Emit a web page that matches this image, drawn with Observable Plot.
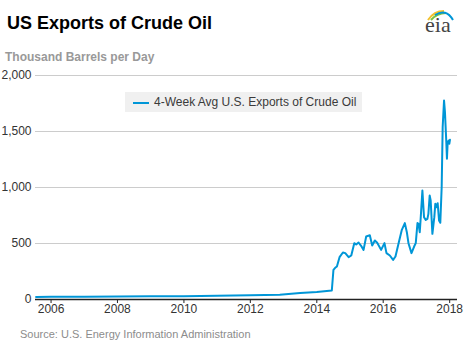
<!DOCTYPE html>
<html><head><meta charset="utf-8">
<script src="https://cdn.jsdelivr.net/npm/d3@7"></script>
<script src="https://cdn.jsdelivr.net/npm/@observablehq/plot@0.6"></script>
<style>
body{margin:0;background:#fff;}
#wrap{position:relative;width:464px;height:355px;overflow:hidden;font-family:"Liberation Sans",Arial,sans-serif;}
#title{position:absolute;left:7px;top:13px;font-size:18px;font-weight:bold;color:#000;line-height:20px;white-space:nowrap;}
#sub{position:absolute;left:5px;top:50px;font-size:12px;font-weight:bold;color:#999;line-height:14px;white-space:nowrap;}
#src{position:absolute;left:20px;top:328px;font-size:11px;color:#8c8c8c;line-height:13px;white-space:nowrap;}
#chart{position:absolute;left:0;top:60px;}
#legend{position:absolute;left:125px;top:92px;width:237px;height:20px;background:#f0f0f0;}
#legend .sw{position:absolute;left:8px;top:10px;width:16px;height:2px;background:#0096d7;}
#legend .tx{position:absolute;left:29px;top:0;line-height:20px;font-size:12px;color:#3a3a3a;white-space:nowrap;}
#logo{position:absolute;left:420px;top:4px;}
</style></head><body>
<div id="wrap">
  <div id="title">US Exports of Crude Oil</div>
  <div id="sub">Thousand Barrels per Day</div>
  <svg id="logo" width="40" height="34" viewBox="0 0 40 34">
    <path d="M8,16 Q14,7 24,7" fill="none" stroke="#f2c12e" stroke-width="2"/>
    <path d="M11,16 Q17,9 26,9" fill="none" stroke="#7cc242" stroke-width="2"/>
    <path d="M15,11 Q26,4 33,16" fill="none" stroke="#0096d7" stroke-width="2"/>
    <text x="5" y="28" font-family="Liberation Serif, DejaVu Serif, serif" font-size="22" fill="#444">eia</text>
  </svg>
  <div id="chart"></div>
  <div id="legend"><div class="sw"></div><div class="tx">4-Week Avg U.S. Exports of Crude Oil</div></div>
  <div id="src">Source: U.S. Energy Information Administration</div>
</div>
<script>
const seriesName = "4-Week Avg U.S. Exports of Crude Oil";
const dates = [
 "2005-07-20","2006-01-01","2007-01-01","2008-01-01","2009-01-01","2010-01-01","2011-01-01","2012-01-01",
 "2012-11-20","2013-07-01","2014-01-01","2014-06-15","2014-07-03","2014-07-22","2014-08-10","2014-09-08",
 "2014-10-15","2014-11-10","2014-12-17","2015-01-15","2015-02-17","2015-03-10","2015-04-05","2015-05-01",
 "2015-05-30","2015-06-28","2015-08-07","2015-09-02","2015-10-01","2015-10-27","2015-12-09","2016-01-15",
 "2016-02-06","2016-03-14","2016-04-19","2016-05-15","2016-06-21","2016-07-24","2016-08-26","2016-09-17",
 "2016-10-05","2016-11-07","2016-12-06","2016-12-24","2017-01-12","2017-01-23","2017-02-06","2017-02-17",
 "2017-03-07","2017-03-25","2017-04-13","2017-05-01","2017-05-12","2017-05-26","2017-06-06","2017-06-25",
 "2017-07-16","2017-07-27","2017-08-07","2017-08-22","2017-09-06","2017-09-20","2017-10-05","2017-10-16",
 "2017-10-31","2017-11-10","2017-11-25","2017-12-02","2017-12-10","2017-12-21","2017-12-28","2018-01-04"
];
const values = [
 22,24,25,26,28,30,33,38,
 43,58,68,80,265,283,295,378,
 420,414,378,393,503,491,509,482,
 443,563,574,482,527,506,443,503,
 414,393,354,384,512,622,682,601,
 503,414,473,503,682,676,601,735,
 973,735,711,720,765,929,884,586,
 735,854,824,860,705,685,1003,1539,
 1777,1673,1405,1256,1405,1420,1390,1426
];
const xTickLabels = ["2006","2008","2010","2012","2014","2016","2018"];
const yTicks = [0,500,1000,1500,2000];

const data = dates.map((d,i)=>({date:new Date(d+"T00:00:00Z"), value:values[i], series:seriesName}));
const xTicks = xTickLabels.map(y=>new Date(y+"-01-01T00:00:00Z"));
const fmtY = d3.format(",");
const fmtX = d3.utcFormat("%Y");

const chart = Plot.plot({
  width:464, height:260,
  marginTop:15, marginBottom:21, marginLeft:35, marginRight:7,
  style:{fontFamily:"Liberation Sans, Arial, sans-serif", fontSize:"12px", color:"#333", background:"transparent", overflow:"visible"},
  x:{type:"utc", domain:[new Date("2005-07-14T00:00:00Z"), new Date("2018-03-28T00:00:00Z")]},
  y:{domain:[0,2000]},
  marks:[
    Plot.gridY(yTicks,{stroke:"#cccccc", strokeOpacity:1}),
    Plot.line(data,{x:"date", y:"value", stroke:"#0096d7", strokeWidth:2, curve:"linear"}),
    Plot.ruleY([0],{stroke:"#222", strokeWidth:1.3}),
    Plot.axisY(yTicks,{tickSize:0, tickPadding:4, tickFormat:fmtY, label:null, fill:"#333"}),
    Plot.axisX(xTicks,{tickSize:4, tickPadding:1, tickFormat:fmtX, label:null, stroke:"#222", fill:"#333"})
  ]
});
document.getElementById("chart").appendChild(chart);
</script>
</body></html>
